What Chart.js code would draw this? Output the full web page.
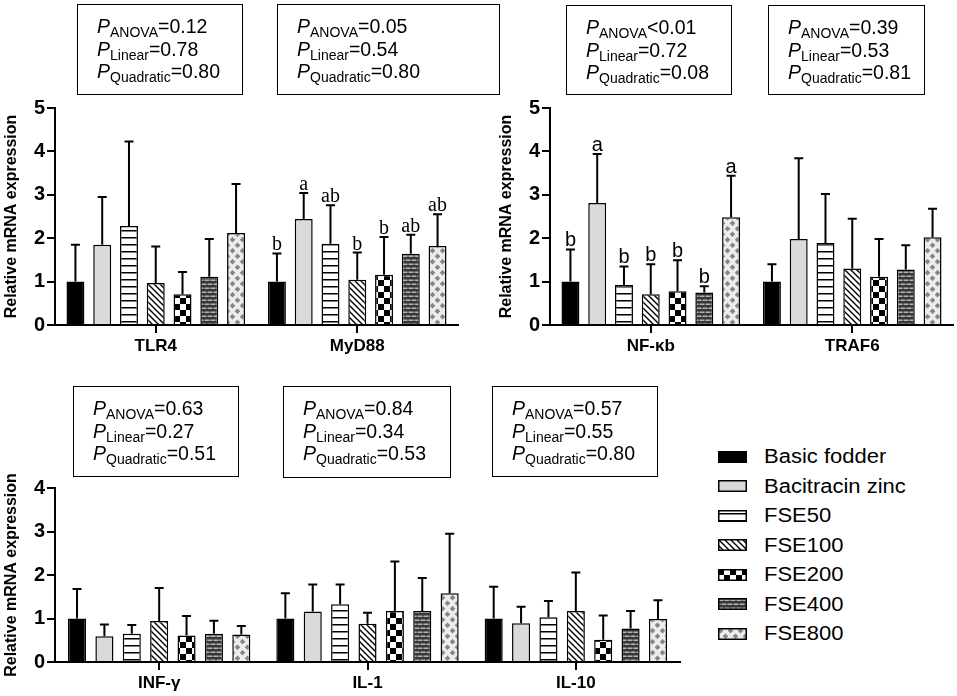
<!DOCTYPE html>
<html>
<head>
<meta charset="utf-8">
<script src="https://cdn.jsdelivr.net/npm/chart.js@4.4.1/dist/chart.umd.min.js"></script>
<style>
  html, body { margin: 0; padding: 0; background: #fff; }
  #page { position: relative; width: 957px; height: 696px; overflow: hidden; font-family: "Liberation Sans", Arial, sans-serif; color: #000; }
  .chart-box { position: absolute; }
  .pbox { position: absolute; border: 1.5px solid #000; box-sizing: border-box; padding: 10px 0 0 19px; font-size: 19.5px; line-height: 22.5px; white-space: nowrap; }
  .pbox i { font-style: italic; }
  .pbox sub { font-size: 14px; vertical-align: -4px; line-height: 0; }
  .legend { position: absolute; left: 718px; top: 442px; }
  .legend-row { height: 29.5px; display: flex; align-items: center; font-size: 20px; }
  .legend-row canvas { width: 29px; height: 12px; margin-right: 17px; }
  .legend-row span { display: inline-block; transform: scaleX(1.1); transform-origin: left center; }
</style>
</head>
<body>
<div id="page">
  <div class="chart-box" style="left:0;top:94px;width:470px;height:266px"><canvas id="chartTop1"></canvas></div>
  <div class="chart-box" style="left:495px;top:94px;width:462px;height:266px"><canvas id="chartTop2"></canvas></div>
  <div class="chart-box" style="left:0;top:474px;width:692px;height:223px"><canvas id="chartBottom"></canvas></div>
  <div class="legend" id="legend"></div>
</div>
<script>
const groups = ['Basic fodder', 'Bacitracin zinc', 'FSE50', 'FSE100', 'FSE200', 'FSE400', 'FSE800'];

// means and SD per gene, in group order
const tlr4Mean = [1.00, 1.85, 2.28, 0.97, 0.71, 1.11, 2.12];
const tlr4Sd = [0.85, 1.10, 1.95, 0.84, 0.51, 0.87, 1.13];
const myd88Mean = [1.00, 2.44, 1.87, 1.04, 1.16, 1.64, 1.82];
const myd88Sd = [0.65, 0.60, 0.89, 0.63, 0.87, 0.44, 0.73];
const nfkbMean = [1.00, 2.81, 0.92, 0.71, 0.78, 0.75, 2.48];
const nfkbSd = [0.74, 1.13, 0.43, 0.69, 0.71, 0.14, 0.96];
const traf6Mean = [1.00, 1.98, 1.89, 1.30, 1.11, 1.28, 2.02];
const traf6Sd = [0.40, 1.86, 1.13, 1.15, 0.87, 0.56, 0.66];
const infgMean = [1.00, 0.59, 0.65, 0.94, 0.61, 0.65, 0.63];
const infgSd = [0.68, 0.27, 0.20, 0.76, 0.45, 0.30, 0.20];
const il1Mean = [1.00, 1.16, 1.33, 0.88, 1.17, 1.17, 1.58];
const il1Sd = [0.58, 0.62, 0.45, 0.25, 1.14, 0.76, 1.37];
const il10Mean = [1.00, 0.89, 1.03, 1.17, 0.51, 0.77, 0.99];
const il10Sd = [0.73, 0.38, 0.37, 0.89, 0.56, 0.40, 0.43];

const myd88Letters = ['b', 'a', 'ab', 'b', 'b', 'ab', 'ab'];
const nfkbLetters = ['b', 'a', 'b', 'b', 'b', 'b', 'a'];

const pGenes = ['TLR4', 'MyD88', 'NF-κb', 'TRAF6', 'INF-γ', 'IL-1', 'IL-10'];
const pAnova = ['=0.12', '=0.05', '<0.01', '=0.39', '=0.63', '=0.84', '=0.57'];
const pLinear = ['=0.78', '=0.54', '=0.72', '=0.53', '=0.27', '=0.34', '=0.55'];
const pQuadratic = ['=0.80', '=0.80', '=0.08', '=0.81', '=0.51', '=0.53', '=0.80'];

const yTicksTop = [0, 1, 2, 3, 4, 5];
const yTicksBottom = [0, 1, 2, 3, 4];

// where each p-value box sits on the page
const boxLayout = [
  { left: 77, top: 4, width: 166, height: 91 },
  { left: 277, top: 4, width: 223, height: 91 },
  { left: 566, top: 5, width: 166, height: 90 },
  { left: 768, top: 5, width: 157, height: 90 },
  { left: 73, top: 386, width: 166, height: 91 },
  { left: 283, top: 386, width: 168, height: 92 },
  { left: 492, top: 386, width: 166, height: 91 },
];

const fontFamily = '"Liberation Sans", Arial, sans-serif';
Chart.defaults.font.family = fontFamily;
Chart.defaults.color = '#000';

function tile(w, h, draw) {
  const c = document.createElement('canvas');
  c.width = w;
  c.height = h;
  const g = c.getContext('2d');
  draw(g);
  return g.createPattern(c, 'repeat');
}

function makeFills() {
  const hstripe = tile(8, 7, g => {
    g.fillStyle = '#fff'; g.fillRect(0, 0, 8, 7);
    g.fillStyle = '#000'; g.fillRect(0, 3, 8, 1.5);
  });
  const diag = tile(6, 6, g => {
    g.fillStyle = '#fff'; g.fillRect(0, 0, 6, 6);
    g.strokeStyle = '#000'; g.lineWidth = 1.4;
    g.beginPath();
    g.moveTo(-1, -1); g.lineTo(7, 7);
    g.moveTo(-1, 5); g.lineTo(1, 7);
    g.moveTo(5, -1); g.lineTo(7, 1);
    g.stroke();
  });
  const check = tile(12, 12, g => {
    g.fillStyle = '#fff'; g.fillRect(0, 0, 12, 12);
    g.fillStyle = '#000'; g.fillRect(0, 0, 6, 6); g.fillRect(6, 6, 6, 6);
  });
  const brick = tile(12, 8, g => {
    g.fillStyle = '#383838'; g.fillRect(0, 0, 12, 8);
    g.fillStyle = '#b4b4b4';
    g.fillRect(0.5, 1.5, 5, 1.5); g.fillRect(6.5, 1.5, 5, 1.5);
    g.fillRect(3.5, 5.5, 5, 1.5); g.fillRect(9.5, 5.5, 5, 1.5); g.fillRect(-2.5, 5.5, 5, 1.5);
  });
  const diamond = tile(10, 11, g => {
    g.fillStyle = '#ececec'; g.fillRect(0, 0, 10, 11);
    g.fillStyle = '#858585';
    [[2.5, 2.75], [7.5, 8.25]].forEach(([cx, cy]) => {
      g.beginPath();
      g.moveTo(cx, cy - 2.8); g.lineTo(cx + 2.8, cy); g.lineTo(cx, cy + 2.8); g.lineTo(cx - 2.8, cy);
      g.closePath(); g.fill();
    });
  });
  return ['#000', '#dadada', hstripe, diag, check, brick, diamond];
}

const fills = makeFills();

const errorBars = {
  id: 'errorBars',
  afterDatasetsDraw(chart, args, opts) {
    const { ctx } = chart;
    const y = chart.scales.y;
    ctx.save();
    ctx.strokeStyle = '#000';
    ctx.fillStyle = '#000';
    ctx.lineWidth = 2;
    ctx.textAlign = 'center';
    ctx.textBaseline = 'alphabetic';
    chart.data.datasets.forEach((ds, di) => {
      chart.getDatasetMeta(di).data.forEach((bar, j) => {
        const top = y.getPixelForValue(ds.data[j] + ds.sd[j]);
        ctx.beginPath();
        ctx.moveTo(bar.x, bar.y);
        ctx.lineTo(bar.x, top);
        ctx.moveTo(bar.x - 4.5, top);
        ctx.lineTo(bar.x + 4.5, top);
        ctx.stroke();
        const letters = opts.letters && opts.letters[j];
        if (letters && letters[di]) {
          ctx.font = opts.font;
          ctx.fillText(letters[di], bar.x, top - 3);
        }
      });
    });
    ctx.restore();
  },
};

function makeChart(id, genes, means, sds, ticks, pct, letterOpts) {
  const datasets = groups.map((g, i) => ({
    label: g,
    data: means.map(m => m[i]),
    sd: sds.map(s => s[i]),
    backgroundColor: fills[i],
    borderColor: '#000',
    borderWidth: 1.5,
    categoryPercentage: pct[0],
    barPercentage: pct[1],
  }));
  return new Chart(document.getElementById(id), {
    type: 'bar',
    data: { labels: genes, datasets },
    plugins: [errorBars],
    options: {
      responsive: true,
      maintainAspectRatio: false,
      animation: false,
      events: [],
      layout: { padding: { top: 12, right: id === 'chartTop2' ? 4 : 12, left: 0, bottom: 0 } },
      plugins: {
        legend: { display: false },
        tooltip: { enabled: false },
        errorBars: letterOpts || {},
      },
      scales: {
        x: {
          ticks: { color: '#000', font: { weight: 'bold', size: 17 }, padding: 3 },
          grid: { display: true, drawOnChartArea: false, offset: false, tickLength: 8, lineWidth: 2, color: '#000' },
          border: { display: true, width: 2, color: '#000' },
          afterFit(s) { s.height = 35; },
        },
        y: {
          min: ticks[0],
          max: ticks[ticks.length - 1],
          afterBuildTicks(s) { s.ticks = ticks.map(v => ({ value: v })); },
          ticks: { color: '#000', font: { weight: 'bold', size: 20 }, padding: 2 },
          grid: { display: true, drawOnChartArea: false, tickLength: 8, lineWidth: 2, color: '#000' },
          border: { display: true, width: 2, color: '#000' },
          title: { display: true, text: 'Relative mRNA expression', color: '#000', font: { weight: 'bold', size: 16 }, padding: { top: 2, bottom: 0 } },
          afterFit(s) { s.width = 55; },
        },
      },
    },
  });
}

makeChart('chartTop1', ['TLR4', 'MyD88'], [tlr4Mean, myd88Mean], [tlr4Sd, myd88Sd], yTicksTop, [0.93, 0.67],
  { letters: [null, myd88Letters], font: '20px "Liberation Serif", "Times New Roman", serif' });
makeChart('chartTop2', ['NF-κb', 'TRAF6'], [nfkbMean, traf6Mean], [nfkbSd, traf6Sd], yTicksTop, [0.93, 0.67],
  { letters: [nfkbLetters, null], font: '20px ' + fontFamily });
makeChart('chartBottom', ['INF-γ', 'IL-1', 'IL-10'], [infgMean, il1Mean, il10Mean], [infgSd, il1Sd, il10Sd], yTicksBottom, [0.92, 0.66]);

// p-value boxes
const page = document.getElementById('page');
pGenes.forEach((gene, i) => {
  const b = boxLayout[i];
  const div = document.createElement('div');
  div.className = 'pbox';
  div.title = gene;
  Object.assign(div.style, { left: b.left + 'px', top: b.top + 'px', width: b.width + 'px', height: b.height + 'px' });
  div.innerHTML =
    `<div><i>P</i><sub>ANOVA</sub>${pAnova[i]}</div>` +
    `<div><i>P</i><sub>Linear</sub>${pLinear[i]}</div>` +
    `<div><i>P</i><sub>Quadratic</sub>${pQuadratic[i]}</div>`;
  page.appendChild(div);
});

// legend
const legend = document.getElementById('legend');
groups.forEach((g, i) => {
  const row = document.createElement('div');
  row.className = 'legend-row';
  const sw = document.createElement('canvas');
  sw.width = 29;
  sw.height = 12;
  const c = sw.getContext('2d');
  c.fillStyle = fills[i];
  c.fillRect(0, 0, 29, 12);
  c.strokeStyle = '#000';
  c.lineWidth = 1.5;
  c.strokeRect(0.75, 0.75, 27.5, 10.5);
  row.appendChild(sw);
  const label = document.createElement('span');
  label.textContent = g;
  row.appendChild(label);
  legend.appendChild(row);
});
</script>
</body>
</html>
